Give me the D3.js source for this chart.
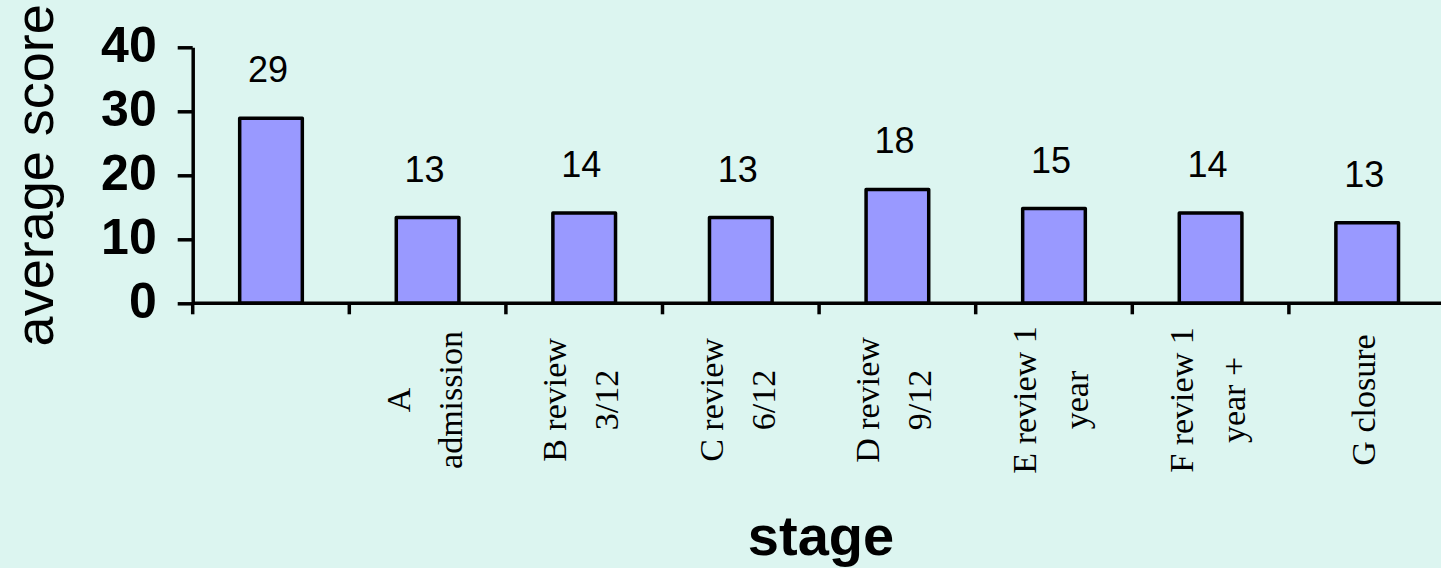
<!DOCTYPE html>
<html>
<head>
<meta charset="utf-8">
<script src="https://cdn.jsdelivr.net/npm/d3@7"></script>
<style>
  html, body { margin: 0; padding: 0; background: #dcf5f0; }
  svg { display: block; }
</style>
</head>
<body>
<div id="chart"></div>
<script>
// Average score per stage; "\n" marks where a stage name wraps.
const categories = ["", "A\nadmission", "B review\n3/12", "C review\n6/12", "D review\n9/12",
                    "E review 1\nyear", "F review 1\nyear +", "G closure"];
const scores = [28.9, 13.4, 14.1, 13.4, 17.8, 14.8, 14.1, 12.6];
const yTicks = [0, 10, 20, 30, 40];
const yTitle = "average score";
const xTitle = "stage";

const W = 1441, H = 568;
const plot = { left: 192.7, right: 1445.5, top: 47.3, bottom: 303.3 };

const svg = d3.select("#chart").append("svg")
  .attr("width", W).attr("height", H);

svg.append("rect").attr("width", W).attr("height", H).attr("fill", "#dcf5f0");

const x = d3.scaleBand()
  .domain(d3.range(categories.length))
  .range([plot.left, plot.right])
  .paddingInner(0.6)
  .paddingOuter(0.3);

const y = d3.scaleLinear().domain([0, 40]).range([plot.bottom, plot.top]);

// Bars
svg.append("g").selectAll("rect")
  .data(scores)
  .join("rect")
  .attr("x", (d, i) => x(i))
  .attr("y", d => y(d))
  .attr("width", x.bandwidth())
  .attr("height", d => y(0) - y(d))
  .attr("fill", "#9999ff")
  .attr("stroke", "#000")
  .attr("stroke-width", 3.5)
  .attr("stroke-linejoin", "round");

// Value labels above the bars
const fmt = d3.format(".0f");
svg.append("g").selectAll("text")
  .data(scores)
  .join("text")
  .attr("x", (d, i) => x(i) + x.bandwidth() / 2 - 3)
  .attr("y", d => y(d) - 36)
  .attr("text-anchor", "middle")
  .attr("font-family", "Arial, 'Liberation Sans', sans-serif")
  .attr("font-size", 36)
  .attr("fill", "#000")
  .text(d => fmt(d));

// Y axis
const yAxis = svg.append("g")
  .attr("transform", `translate(${plot.left},0)`)
  .call(d3.axisLeft(y).tickValues(yTicks).tickSize(15).tickSizeOuter(0).tickPadding(21));
yAxis.select(".domain").attr("stroke", "#000").attr("stroke-width", 3.5);
yAxis.selectAll(".tick line").attr("stroke", "#000").attr("stroke-width", 3.5);
yAxis.selectAll(".tick text")
  .attr("font-family", "Arial, 'Liberation Sans', sans-serif")
  .attr("font-size", 50)
  .attr("font-weight", "bold")
  .attr("fill", "#000")
  .attr("dy", "0.29em");

// X axis: baseline with ticks on category boundaries
const xAxis = svg.append("g");
xAxis.append("line")
  .attr("x1", plot.left).attr("x2", W + 10)
  .attr("y1", y(0)).attr("y2", y(0))
  .attr("stroke", "#000").attr("stroke-width", 3.5);
const gap = (x.step() - x.bandwidth()) / 2;
const bounds = x.domain().map(i => x(i) - gap).concat([x.range()[1]]);
xAxis.selectAll("line.tick")
  .data(bounds)
  .join("line")
  .attr("class", "tick")
  .attr("x1", d => d).attr("x2", d => d)
  .attr("y1", y(0)).attr("y2", y(0) + 11)
  .attr("stroke", "#000").attr("stroke-width", 3.5);

// Category labels, rotated to read upward
const lineGap = 52;
const catG = svg.append("g").selectAll("g")
  .data(categories)
  .join("g")
  .attr("transform", (d, i) => `translate(${x(i) + x.bandwidth() / 2},400) rotate(-90)`);
catG.each(function (d) {
  const lines = d.split("\n");
  const n = lines.length;
  const t = d3.select(this).append("text")
    .attr("text-anchor", "middle")
    .attr("font-family", "'Liberation Serif', 'Times New Roman', serif")
    .attr("font-size", 34)
    .attr("fill", "#000");
  lines.forEach((ln, j) => {
    t.append("tspan")
      .attr("x", 0)
      .attr("y", 8 + (j - (n - 1) / 2) * lineGap)
      .text(ln);
  });
});

// Axis titles
svg.append("text")
  .attr("transform", `translate(53,${(plot.top + plot.bottom) / 2}) rotate(-90)`)
  .attr("text-anchor", "middle")
  .attr("font-family", "Arial, 'Liberation Sans', sans-serif")
  .attr("font-size", 54)
  .attr("fill", "#000")
  .text(yTitle);

svg.append("text")
  .attr("x", 821)
  .attr("y", 555)
  .attr("text-anchor", "middle")
  .attr("font-family", "Arial, 'Liberation Sans', sans-serif")
  .attr("font-size", 56)
  .attr("font-weight", "bold")
  .attr("fill", "#000")
  .text(xTitle);
</script>
</body>
</html>
